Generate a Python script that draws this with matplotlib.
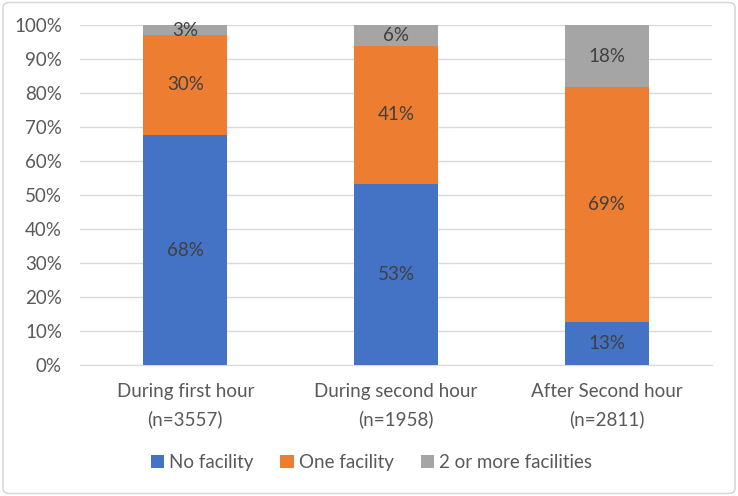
import matplotlib.pyplot as plt
from matplotlib.patches import FancyBboxPatch
import numpy as np

plt.rcParams['font.family'] = ['Lato', 'DejaVu Sans']

categories = ['During first hour\n(n=3557)', 'During second hour\n(n=1958)', 'After Second hour\n(n=2811)']
no_facility = [67.7, 53.4, 12.6]
one_facility = [29.6, 40.6, 69.2]
two_or_more = [2.7, 6.0, 18.2]
labels_no = ['68%', '53%', '13%']
labels_one = ['30%', '41%', '69%']
labels_two = ['3%', '6%', '18%']
series_names = ['No facility', 'One facility', '2 or more facilities']
colors = ['#4472C4', '#ED7D31', '#A5A5A5']

fig = plt.figure(figsize=(7.38, 4.96), dpi=100)
ax = fig.add_axes([0.1084, 0.2641, 0.8564, 0.6845])

x = np.arange(len(categories))
w = 0.4
bottom = np.zeros(len(categories))
for vals, labs, name, col in zip([no_facility, one_facility, two_or_more],
                                 [labels_no, labels_one, labels_two],
                                 series_names, colors):
    bars = ax.bar(x, vals, w, bottom=bottom, color=col, label=name, zorder=3)
    ax.bar_label(bars, labels=labs, label_type='center', color='#404040', fontsize=13.5)
    bottom += np.array(vals)

ax.set_xlim(-0.5, 2.5)
ax.set_ylim(0, 100)
ax.set_yticks(np.arange(0, 101, 10))
ax.set_yticklabels([f'{v}%' for v in range(0, 101, 10)])
ax.set_xticks(x)
ax.set_xticklabels(categories, linespacing=1.7)
ax.grid(axis='y', color='#D9D9D9', linewidth=1, zorder=0)
for s in ['top', 'right', 'left']:
    ax.spines[s].set_visible(False)
ax.spines['bottom'].set_color('#D9D9D9')
ax.tick_params(length=0, colors='#595959')
ax.tick_params(axis='x', pad=13, labelsize=13.5)
ax.tick_params(axis='y', pad=13, labelsize=13.5)

leg = fig.legend(loc='center', bbox_to_anchor=(0.503, 0.068), ncol=3, frameon=False,
                 fontsize=13.5, handlelength=0.72, handleheight=0.72, handletextpad=0.25,
                 columnspacing=1.45)
for t in leg.get_texts():
    t.set_color('#595959')

border = FancyBboxPatch((0.004, 0.005), 0.992, 0.99, boxstyle='round,pad=0,rounding_size=0.01',
                        transform=fig.transFigure, fill=False, edgecolor='#D9D9D9', linewidth=1.2)
fig.patches.append(border)

fig.savefig('out.png', dpi=100)
